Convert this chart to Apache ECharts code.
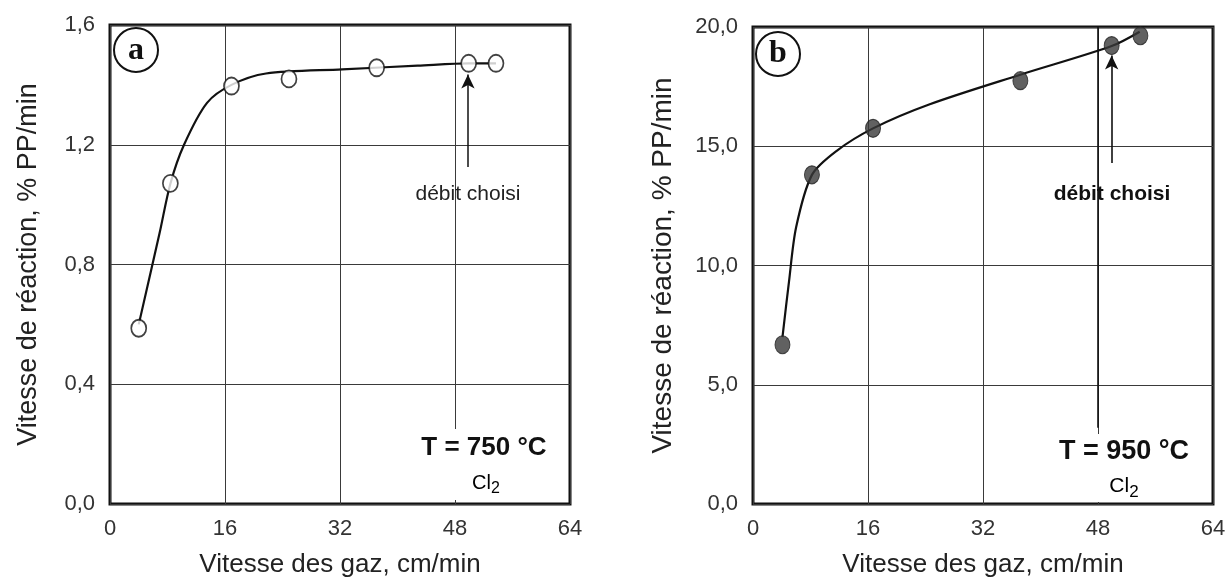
<!DOCTYPE html>
<html>
<head>
<meta charset="utf-8">
<script src="https://cdn.jsdelivr.net/npm/echarts@6/dist/echarts.min.js"></script>
<style>
html,body{margin:0;padding:0;background:#fff;}
#chart{width:1230px;height:583px;}
</style>
</head>
<body>
<div id="chart"></div>
<script>
// ---- Data ----
const xTicks = [0, 16, 32, 48, 64];
// Panel a : T = 750 °C, open circles
const speedA = [4.0, 8.4, 16.9, 24.9, 37.1, 49.9, 53.7];
const rateA  = [0.587, 1.071, 1.396, 1.420, 1.457, 1.472, 1.472];
const curveSpeedA = [4.0, 6.9, 8.4, 10.3, 13.5, 16.9, 21.7, 32.3, 42.8, 49.9, 53.7];
const curveRateA  = [0.60, 0.905, 1.07, 1.20, 1.34, 1.40, 1.438, 1.452, 1.464, 1.472, 1.472];
// Panel b : T = 950 °C, filled circles
const speedB = [4.1, 8.2, 16.7, 37.2, 49.9, 53.9];
const rateB  = [6.68, 13.8, 15.75, 17.75, 19.22, 19.63];
const curveSpeedB = [4.1, 5.0, 6.0, 8.2, 11.6, 16.7, 24.5, 37.2, 49.9, 53.8];
const curveRateB  = [7.0, 9.3, 11.6, 13.8, 14.8, 15.75, 16.75, 18.0, 19.2, 19.8];

const xName = 'Vitesse des gaz, cm/min';
const yName = 'Vitesse de réaction, % PP/min';
const chosenLabel = 'débit choisi';

const FONT = "'Liberation Sans Narrow', 'Liberation Sans', Arial, sans-serif";
const pairs = (xs, ys) => xs.map((x, i) => [x, ys[i]]);
const comma = v => v.toFixed(1).replace('.', ',');

function xAxis(gi, color) {
  return {
    gridIndex: gi, type: 'value', min: 0, max: 64, interval: 16,
    axisLine: {show: false}, axisTick: {show: false},
    splitLine: {show: true, lineStyle: {color: '#3a3a3a', width: 1}},
    axisLabel: {fontFamily: FONT, fontSize: 22, color: color, margin: 14},
    name: xName, nameLocation: 'middle', nameGap: 48,
    nameTextStyle: {fontFamily: FONT, fontSize: 26, color: '#222'}
  };
}
function yAxis(gi, max, interval, nameSize, gap) {
  return {
    gridIndex: gi, type: 'value', min: 0, max: max, interval: interval,
    axisLine: {show: false}, axisTick: {show: false},
    splitLine: {show: true, lineStyle: {color: '#3a3a3a', width: 1}},
    axisLabel: {fontFamily: FONT, fontSize: 22, color: '#333', margin: 15, formatter: comma},
    name: yName, nameLocation: 'middle', nameGap: gap, nameRotate: 90,
    nameTextStyle: {fontFamily: FONT, fontSize: nameSize, color: '#222'}
  };
}

const chart = echarts.init(document.getElementById('chart'), null, {renderer: 'canvas'});
const arrowLine = (x, y0, y1) => [{coord: [x, y0], symbol: 'none'}, {coord: [x, y1], symbol: 'arrow', symbolSize: [10, 14]}];
const option = {
  backgroundColor: '#fff',
  animation: false,
  grid: [
    {left: 110, top: 25, width: 460, height: 479, show: true, borderColor: '#111', borderWidth: 3, backgroundColor: 'transparent'},
    {left: 753, top: 27, width: 460, height: 480, show: true, borderColor: '#111', borderWidth: 3, backgroundColor: 'transparent'}
  ],
  xAxis: [xAxis(0, '#333'), xAxis(1, '#333')],
  yAxis: [yAxis(0, 1.6, 0.4, 27, 68), yAxis(1, 20, 5, 28, 76)],
  series: [
    {
      type: 'line', xAxisIndex: 0, yAxisIndex: 0, data: pairs(curveSpeedA, curveRateA),
      smooth: 0.3, showSymbol: false, symbol: 'none',
      lineStyle: {color: '#111', width: 2.2}, z: 3
    },
    {
      type: 'scatter', xAxisIndex: 0, yAxisIndex: 0, data: pairs(speedA, rateA),
      symbol: 'circle', symbolSize: [15, 17],
      itemStyle: {color: '#fff', borderColor: '#111', borderWidth: 1.8}, z: 5,
      markLine: {
        silent: true, symbol: ['none', 'arrow'], symbolSize: 14,
        lineStyle: {color: '#111', width: 1.5, type: 'solid'}, label: {show: false},
        data: [arrowLine(49.8, 1.126, 1.435)]
      }
    },
    {
      type: 'line', xAxisIndex: 1, yAxisIndex: 1, data: pairs(curveSpeedB, curveRateB),
      smooth: 0.3, showSymbol: false, symbol: 'none',
      lineStyle: {color: '#111', width: 2.2}, z: 3,
      markLine: {
        silent: true, symbol: ['none', 'none'],
        lineStyle: {color: '#111', width: 1.6, type: 'solid'}, label: {show: false},
        data: [[{coord: [48, 3.2]}, {coord: [48, 20]}]]
      }
    },
    {
      type: 'scatter', xAxisIndex: 1, yAxisIndex: 1, data: pairs(speedB, rateB),
      symbol: 'circle', symbolSize: [15, 18],
      itemStyle: {color: '#3a3a3a', borderColor: '#222', borderWidth: 1}, z: 5,
      markLine: {
        silent: true, symbol: ['none', 'arrow'], symbolSize: 14,
        lineStyle: {color: '#111', width: 1.6, type: 'solid'}, label: {show: false},
        data: [arrowLine(49.9, 14.3, 18.8)]
      }
    }
  ],
  graphic: [
    // white boxes behind temperature labels (hide gridline end)
    {type: 'rect', shape: {x: 415, y: 429, width: 148, height: 71}, style: {fill: '#fff'}, z: 50},
    {type: 'rect', shape: {x: 1050, y: 434, width: 155, height: 68}, style: {fill: '#fff'}, z: 50},
    // panel letters
    {type: 'circle', shape: {cx: 136, cy: 50, r: 22}, style: {fill: '#fff', stroke: '#111', lineWidth: 2}, z: 60},
    {type: 'text', style: {x: 136, y: 51, text: 'a', font: "bold 32px 'Liberation Serif', 'DejaVu Serif', serif", fill: '#111', align: 'center', verticalAlign: 'middle'}, z: 61},
    {type: 'circle', shape: {cx: 778, cy: 54, r: 22}, style: {fill: '#fff', stroke: '#111', lineWidth: 2}, z: 60},
    {type: 'text', style: {x: 778, y: 54, text: 'b', font: "bold 32px 'Liberation Serif', 'DejaVu Serif', serif", fill: '#111', align: 'center', verticalAlign: 'middle'}, z: 61},
    // débit choisi
    {type: 'text', style: {x: 468, y: 194, text: chosenLabel, font: "21px " + FONT, fill: '#222', align: 'center', verticalAlign: 'middle'}, z: 61},
    {type: 'text', style: {x: 1112, y: 194, text: chosenLabel, font: "bold 21px " + FONT, fill: '#111', align: 'center', verticalAlign: 'middle'}, z: 61},
    // temperatures
    {type: 'text', style: {x: 484, y: 448, text: 'T = 750 °C', font: "bold 26px " + FONT, fill: '#111', align: 'center', verticalAlign: 'middle'}, z: 61},
    {type: 'text', style: {x: 1124, y: 452, text: 'T = 950 °C', font: "bold 27px " + FONT, fill: '#111', align: 'center', verticalAlign: 'middle'}, z: 61},
    {type: 'text', style: {x: 486, y: 483, text: '{c|Cl}{s|2}', align: 'center', verticalAlign: 'middle',
      rich: {c: {fontFamily: FONT, fontSize: 20, color: '#444'}, s: {fontFamily: FONT, fontSize: 16, color: '#444', padding: [12, 0, 0, 0]}}}, z: 61},
    {type: 'text', style: {x: 1124, y: 486, text: '{c|Cl}{s|2}', align: 'center', verticalAlign: 'middle',
      rich: {c: {fontFamily: FONT, fontSize: 21, color: '#222'}, s: {fontFamily: FONT, fontSize: 17, color: '#222', padding: [12, 0, 0, 0]}}}, z: 61}
  ]
};
chart.setOption(option);
</script>
</body>
</html>
